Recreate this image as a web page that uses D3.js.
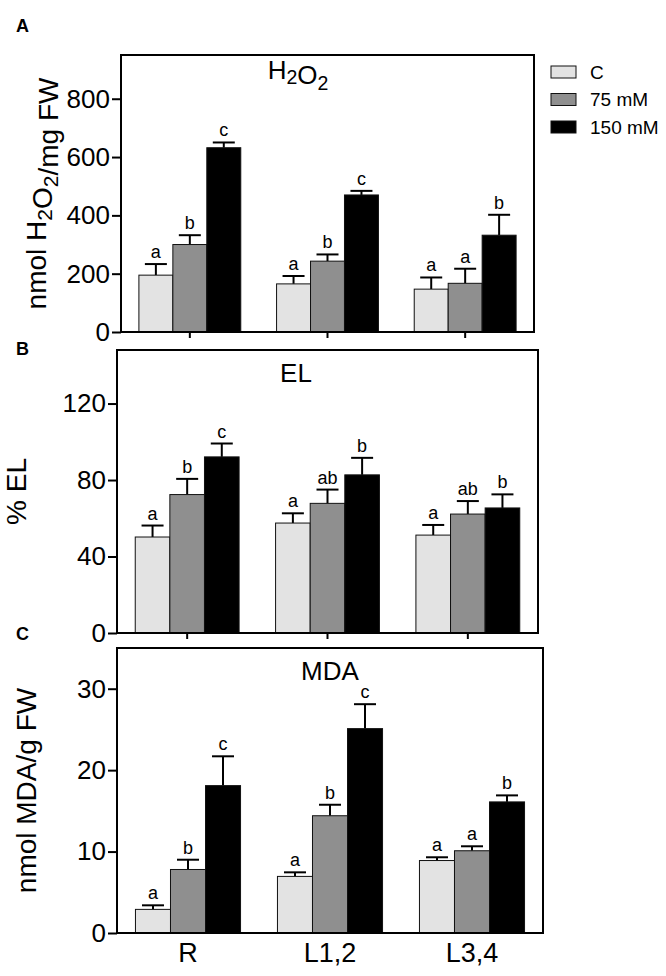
<!DOCTYPE html>
<html>
<head>
<meta charset="utf-8">
<script src="https://cdn.jsdelivr.net/npm/d3@7"></script>
<style>
  html, body { margin: 0; padding: 0; background: #fff; }
  svg { display: block; font-family: Arial, "Liberation Sans", Helvetica, sans-serif; }
</style>
</head>
<body>
<svg id="chart" width="666" height="976"></svg>
<script>
// ---------- data ----------
const groups = ["R", "L1,2", "L3,4"];
const series = ["C", "75 mM", "150 mM"];
const seriesColors = ["#e3e3e3", "#8f8f8f", "#000000"];

const h2o2Values  = [[195, 300, 632], [165, 243, 470], [147, 167, 332]];
const h2o2Errors  = [[38, 32, 18], [27, 23, 14], [40, 50, 70]];
const h2o2Letters = [["a", "b", "c"], ["a", "b", "c"], ["a", "a", "b"]];
const h2o2Ticks   = [0, 200, 400, 600, 800];

const elValues  = [[50.2, 72.4, 92.1], [57.5, 67.8, 82.7], [51.2, 62.2, 65.4]];
const elErrors  = [[6, 8.2, 7], [5.1, 7.2, 8.9], [5.3, 6.8, 7.1]];
const elLetters = [["a", "b", "c"], ["a", "ab", "b"], ["a", "ab", "b"]];
const elTicks   = [0, 40, 80, 120];

const mdaValues  = [[2.9, 7.8, 18.1], [6.95, 14.4, 25.1], [8.9, 10.1, 16.1]];
const mdaErrors  = [[0.5, 1.2, 3.6], [0.5, 1.35, 3.0], [0.4, 0.55, 0.8]];
const mdaLetters = [["a", "b", "c"], ["a", "b", "c"], ["a", "a", "b"]];
const mdaTicks   = [0, 10, 20, 30];

// ---------- drawing ----------
const svg = d3.select("#chart");

function richText(sel, parts) {
  parts.forEach(p => {
    if (p.sub) {
      sel.append("tspan").attr("font-size", "0.75em").attr("dy", "0.28em").text(p.t);
      sel.append("tspan").attr("dy", "-0.21em").text("");
    } else {
      sel.append("tspan").text(p.t);
    }
  });
}

const panels = [
  { letter: "A", values: h2o2Values, errors: h2o2Errors, letters: h2o2Letters, ticks: h2o2Ticks,
    yMax: 950, left: 121, right: 534, top: 55, bottom: 332,
    title: [{t: "H"}, {t: "2", sub: true}, {t: "O"}, {t: "2", sub: true}], titleX: 298, titleDy: 24,
    ylabel: [{t: "nmol H"}, {t: "2", sub: true}, {t: "O"}, {t: "2", sub: true}, {t: "/mg FW"}], ylabelX: 46,
    letterY: 32, xTicks: true, xLabels: false, legend: true },
  { letter: "B", values: elValues, errors: elErrors, letters: elLetters, ticks: elTicks,
    yMax: 148, left: 117, right: 538, top: 350, bottom: 633,
    title: [{t: "EL"}], titleX: 296, titleDy: 32,
    ylabel: [{t: "% EL"}], ylabelX: 26,
    letterY: 355, xTicks: true, xLabels: false, legend: false },
  { letter: "C", values: mdaValues, errors: mdaErrors, letters: mdaLetters, ticks: mdaTicks,
    yMax: 35, left: 117, right: 543, top: 648, bottom: 933,
    title: [{t: "MDA"}], titleX: 330, titleDy: 32,
    ylabel: [{t: "nmol MDA/g FW"}], ylabelX: 36,
    letterY: 640, xTicks: false, xLabels: true, legend: false }
];

panels.forEach(p => {
  const g = svg.append("g");

  const x0 = d3.scaleBand().domain(groups).range([p.left, p.right])
    .paddingInner(0.26).paddingOuter(0.13);
  const x1 = d3.scaleBand().domain(series).range([0, x0.bandwidth()]).padding(0);
  const y = d3.scaleLinear().domain([0, p.yMax]).range([p.bottom, p.top]);

  // bars
  groups.forEach((grp, gi) => {
    series.forEach((s, si) => {
      const v = p.values[gi][si];
      const e = p.errors[gi][si];
      const bx = x0(grp) + x1(s);
      const bw = x1.bandwidth();
      const cx = bx + bw / 2;
      // error bar (upward only)
      g.append("line").attr("x1", cx).attr("x2", cx)
        .attr("y1", y(v)).attr("y2", y(v + e))
        .attr("stroke", "#000").attr("stroke-width", 2);
      g.append("line").attr("x1", cx - 11).attr("x2", cx + 11)
        .attr("y1", y(v + e)).attr("y2", y(v + e))
        .attr("stroke", "#000").attr("stroke-width", 2);
      g.append("rect").attr("x", bx).attr("y", y(v))
        .attr("width", bw).attr("height", y(0) - y(v))
        .attr("fill", seriesColors[si]).attr("stroke", "#111").attr("stroke-width", 1);
      g.append("text").attr("x", cx).attr("y", y(v + e) - 6)
        .attr("text-anchor", "middle").attr("font-size", 18).text(p.letters[gi][si]);
    });
  });

  // frame
  g.append("rect").attr("x", p.left).attr("y", p.top)
    .attr("width", p.right - p.left).attr("height", p.bottom - p.top)
    .attr("fill", "none").attr("stroke", "#000").attr("stroke-width", 2);

  // y axis
  const ya = g.append("g").attr("transform", `translate(${p.left},0)`)
    .call(d3.axisLeft(y).tickValues(p.ticks).tickSize(9).tickPadding(2).tickFormat(d3.format("d")));
  ya.select(".domain").remove();
  ya.selectAll(".tick line").attr("stroke-width", 2);
  ya.selectAll(".tick text").attr("font-size", 26).attr("font-family", "Arial, 'Liberation Sans', sans-serif").attr("fill", "#000");

  // x axis
  const xa = g.append("g").attr("transform", `translate(0,${p.bottom})`)
    .call(d3.axisBottom(x0).tickSize(p.xTicks ? 6 : 0).tickPadding(10)
      .tickFormat(p.xLabels ? (d => d) : () => ""));
  xa.select(".domain").remove();
  xa.selectAll(".tick line").attr("stroke-width", 2);
  xa.selectAll(".tick text").attr("font-size", 27).attr("font-family", "Arial, 'Liberation Sans', sans-serif").attr("fill", "#000");

  // title
  const t = g.append("text").attr("x", p.titleX).attr("y", p.top + p.titleDy)
    .attr("text-anchor", "middle").attr("font-size", 26);
  richText(t, p.title);

  // y label
  const yl = g.append("text")
    .attr("transform", `translate(${p.ylabelX},${(p.top + p.bottom) / 2}) rotate(-90)`)
    .attr("text-anchor", "middle").attr("font-size", 28);
  richText(yl, p.ylabel);

  // panel letter
  g.append("text").attr("x", 16).attr("y", p.letterY)
    .attr("font-size", 18).attr("font-weight", "bold").text(p.letter);

  // legend
  if (p.legend) {
    const lg = g.append("g").attr("transform", "translate(551,66)");
    series.forEach((s, i) => {
      const row = lg.append("g").attr("transform", `translate(0,${i * 27.5})`);
      row.append("rect").attr("width", 25).attr("height", 12)
        .attr("fill", seriesColors[i]).attr("stroke", "#111").attr("stroke-width", 1);
      row.append("text").attr("x", 39).attr("y", 12.5).attr("font-size", 19).text(s);
    });
  }
});
</script>
</body>
</html>
